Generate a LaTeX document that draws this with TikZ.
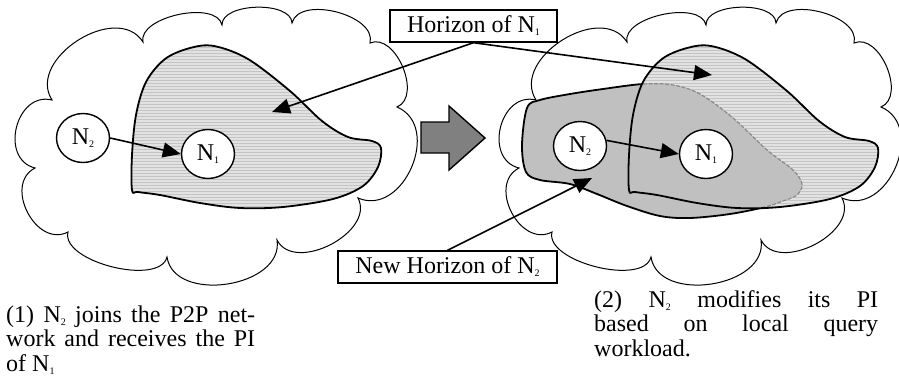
\documentclass[tikz,border=0pt]{standalone}
\usepackage{fontspec}
\setmainfont{Liberation Serif}
\usetikzlibrary{calc,arrows.meta,shapes.geometric}

\definecolor{stripebase}{HTML}{C4C4C4}
\definecolor{stripelight}{HTML}{E2E2E2}
\definecolor{newgray}{HTML}{C0C0C0}
\definecolor{blockgray}{HTML}{808080}
\definecolor{dashgray}{HTML}{8A8A8A}

% small lowered index used in the node names
\newcommand\nsub[1]{\raisebox{-3pt}{\fontsize{10}{10}\selectfont #1}}

% one bulge of a cloud outline, from #1 to #2, height factor #3
\newcommand\lobe[3]{.. controls ($(#1)!#3!90:(#2)$) and ($(#2)!#3!-90:(#1)$) .. (#2)}

% outline of the horizon of N1
\newcommand\horizonpath{plot[smooth cycle, tension=0.55] coordinates {
  (132,190) (132,155) (136,115) (146,82) (165,59) (190,48) (214,46)
  (248,59) (290,91) (322,121) (348,137) (372,141) (381,148) (378,167)
  (363,186) (333,199) (283,207) (240,208) (200,203) (160,195) (138,192)}}

% outline of the new horizon of N2
\newcommand\newhorizonpath{plot[smooth cycle, tension=0.55] coordinates {
  (527,108) (540,100) (570,94) (603,89) (643,84) (673,85) (700,94)
  (733,118) (767,150) (793,170) (802,184) (797,195) (783,201) (765,207)
  (730,214) (690,218) (660,216) (627,206) (597,194) (570,184) (540,180)
  (526,172) (522,145)}}

% horizontal hatching of a horizon area (draw inside a clip)
\newcommand\hatching{%
  \foreach \yy in {43,46,...,212} {\draw[stripelight, line width=1.4pt] (125,\yy) -- (390,\yy);}}

\begin{document}
\begin{tikzpicture}[x=1pt, y=-1pt,
  font=\fontsize{24}{24}\selectfont,
  cloudline/.style={draw=black, line width=1pt},
  blobline/.style={draw=black, line width=1.8pt},
  peer/.style={ellipse, draw=black, fill=white, line width=1.4pt,
    minimum width=53pt, minimum height=49pt, inner sep=0pt},
  labelbox/.style={draw=black, fill=white, line width=1.4pt,
    minimum height=32pt, inner sep=0pt},
  link/.style={line width=1.6pt, -{Triangle[length=18pt, width=15pt]}},
  caption/.style={anchor=base west, inner sep=0pt}]

\useasboundingbox (0,0) rectangle (899,381);

% the two networks
\foreach \dx in {0,484}{
  \begin{scope}[xshift=\dx pt]
    \coordinate (k1) at (35,168);
    \coordinate (k2) at (52,100);
    \coordinate (k3) at (143,42);
    \coordinate (k4) at (222,25);
    \coordinate (k5) at (292,23);
    \coordinate (k6) at (370,43);
    \coordinate (k7) at (397,107);
    \coordinate (k8) at (358,198);
    \coordinate (k9) at (277,240);
    \coordinate (k10) at (167,257);
    \coordinate (k11) at (68,232);
    \draw[cloudline] (k1) \lobe{k1}{k2}{0.53} \lobe{k2}{k3}{0.45}
      \lobe{k3}{k4}{0.32} \lobe{k4}{k5}{0.32} \lobe{k5}{k6}{0.36}
      \lobe{k6}{k7}{0.40} \lobe{k7}{k8}{0.50} \lobe{k8}{k9}{0.42}
      \lobe{k9}{k10}{0.43} \lobe{k10}{k11}{0.30} \lobe{k11}{k1}{0.50} -- cycle;
  \end{scope}
}

% left: horizon of N1
\begin{scope}
  \clip \horizonpath;
  \fill[stripebase] \horizonpath;
  \hatching
\end{scope}
\draw[blobline] \horizonpath;

% right: new horizon of N2 over the horizon of N1
\fill[newgray] \newhorizonpath;
\draw[blobline] \newhorizonpath;
\begin{scope}[xshift=497pt]
  \clip \horizonpath;
  \fill[stripebase] \horizonpath;
  \hatching
  \begin{scope}[xshift=-497pt]
    \fill[newgray] \newhorizonpath;
    \draw[dashgray, line width=1.2pt, dash pattern=on 4pt off 1.5pt] \newhorizonpath;
  \end{scope}
\end{scope}
\begin{scope}[xshift=497pt]
  \draw[blobline] \horizonpath;
\end{scope}

% transition arrow
\draw[fill=blockgray, line width=1.4pt, line join=miter]
  (421,122) -- (449,122) -- (449,106) -- (485,138) -- (449,170)
  -- (449,153) -- (421,153) -- cycle;

% peers
\node[peer] (ln2) at (83,138) {N\nsub{2}};
\node[peer] (ln1) at (208,154) {N\nsub{1}};
\node[peer] (rn2) at (580,146) {N\nsub{2}};
\node[peer] (rn1) at (706,154) {N\nsub{1}};
\draw[link] (ln2.east) -- (ln1.west);
\draw[link] (rn2.12) -- (rn1.west);

% labels
\node[labelbox, minimum width=167pt] (hz) at (473.5,26) {Horizon of N\nsub{1}};
\node[labelbox, minimum width=219pt] (nhz) at (447.5,267) {New Horizon of N\nsub{2}};
\coordinate (hzleft) at (272,112);
\coordinate (hzright) at (712,75);
\coordinate (nhztip) at (592,178);
\draw[link] (hz.south) -- (hzleft);
\draw[link] (hz.south) -- (hzright);
\draw[link] (nhz.north) -- (nhztip);

% captions
\node[caption] (capl1) at (6,322) {\makebox[249pt][s]{(1) N\nsub{2} joins the P2P net-}};
\node[caption] (capl2) at (6,346) {\makebox[249pt][s]{work and receives the PI}};
\node[caption] (capl3) at (6,371) {of N\nsub{1}};
\node[caption] (capr1) at (594,307) {\makebox[284pt][s]{(2) N\nsub{2} modifies its PI}};
\node[caption] (capr2) at (594,331) {\makebox[284pt][s]{based on local query}};
\node[caption] (capr3) at (594,356) {workload.};
\end{tikzpicture}
\end{document}
